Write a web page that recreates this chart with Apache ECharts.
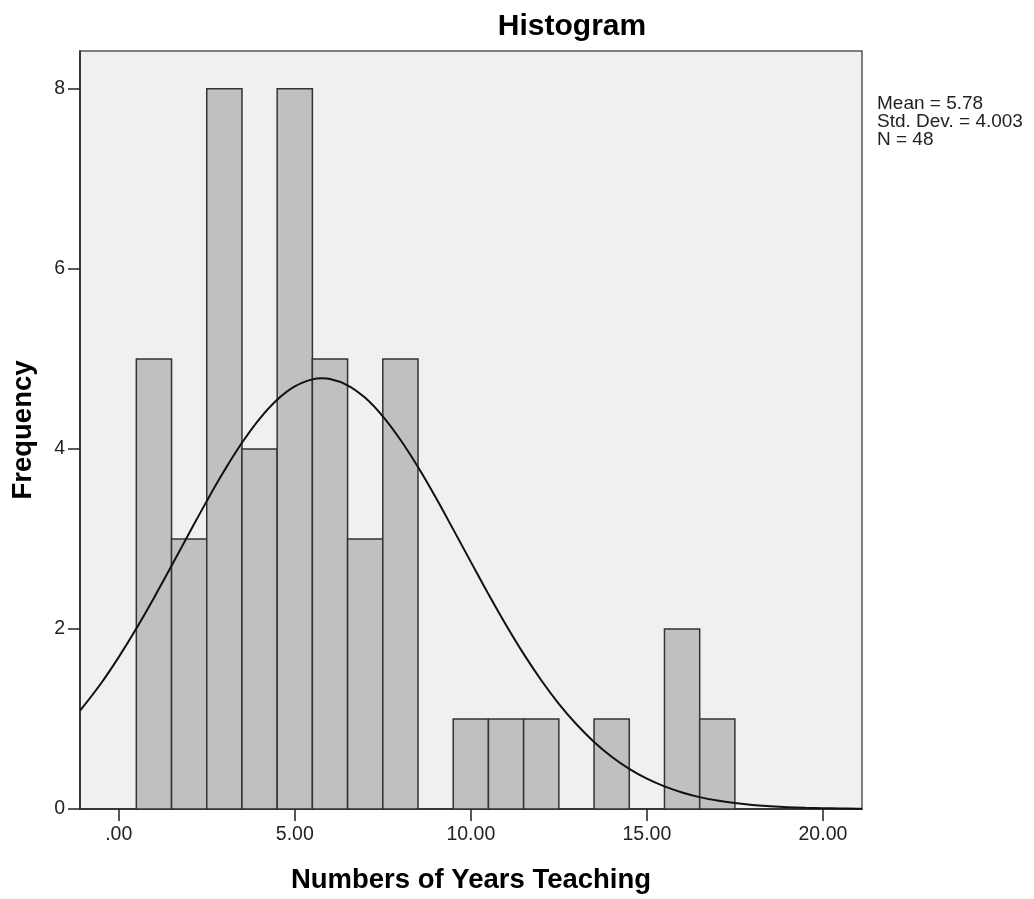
<!DOCTYPE html>
<html>
<head>
<meta charset="utf-8">
<script src="https://cdn.jsdelivr.net/npm/echarts@6/dist/echarts.min.js"></script>
<style>
  html, body { margin: 0; padding: 0; background: #ffffff; }
  #chart { width: 1034px; height: 899px; }
</style>
</head>
<body>
<div id="chart"></div>
<script>
// ---- data ----
const chartTitle = 'Histogram';
const xAxisTitle = 'Numbers of Years Teaching';
const yAxisTitle = 'Frequency';
const statsLines = ['Mean = 5.78', 'Std. Dev. = 4.003', 'N = 48'];

const binCenters = [1, 2, 3, 4, 5, 6, 7, 8, 9, 10, 11, 12, 13, 14, 15, 16, 17];
const binCounts  = [5, 3, 8, 4, 8, 5, 3, 5, 0, 1, 1, 1, 0, 1, 0, 2, 1];
const binWidth = 1;

const curveX = [-1.1, -0.5, 0, 0.5, 1, 1.5, 2, 2.5, 3, 3.5, 4, 4.5, 5, 5.5, 5.78, 6, 6.5, 7, 7.5, 8, 8.5, 9, 9.5, 10, 10.5, 11, 11.5, 12, 12.5, 13, 13.5, 14, 14.5, 15, 15.5, 16, 16.5, 17, 17.5, 18, 18.5, 19, 19.5, 20, 20.5, 21, 21.11];
const curveY = [1.092, 1.397, 1.687, 2.004, 2.345, 2.701, 3.063, 3.420, 3.759, 4.068, 4.334, 4.546, 4.694, 4.772, 4.784, 4.777, 4.707, 4.567, 4.362, 4.102, 3.798, 3.462, 3.106, 2.745, 2.387, 2.044, 1.723, 1.430, 1.169, 0.941, 0.745, 0.581, 0.446, 0.337, 0.251, 0.184, 0.132, 0.094, 0.066, 0.045, 0.031, 0.020, 0.013, 0.009, 0.006, 0.003, 0.003];

const xTickValues = [0, 5, 10, 15, 20];
const xTickLabels = ['.00', '5.00', '10.00', '15.00', '20.00'];
const yTickValues = [0, 2, 4, 6, 8];
const yTickLabels = ['0', '2', '4', '6', '8'];
const xRange = [-1.1, 21.11];
const yRange = [0, 8.42];

// ---- chart ----
const FONT = '"Liberation Sans", Arial, sans-serif';
const chart = echarts.init(document.getElementById('chart'), null, { renderer: 'canvas' });

const barData = binCenters.map((c, i) => [c, binCounts[i]]);
const curveData = curveX.map((x, i) => [x, curveY[i]]);

const option = {
  backgroundColor: '#ffffff',
  animation: false,
  grid: {
    left: 80, right: 172, top: 51, bottom: 85,
    show: true, backgroundColor: '#f0f0f0', borderColor: '#555555', borderWidth: 1.5
  },
  xAxis: {
    type: 'value', min: xRange[0], max: xRange[1],
    name: xAxisTitle, nameLocation: 'middle', nameGap: 57,
    nameTextStyle: { fontFamily: FONT, fontWeight: 'bold', fontSize: 27.5, color: '#000' },
    axisLine: { show: true, onZero: false, lineStyle: { color: '#222', width: 1.5 } },
    axisTick: { show: true, length: 12, customValues: xTickValues, lineStyle: { color: '#222', width: 1.5 } },
    axisLabel: {
      customValues: xTickValues, margin: 16,
      fontFamily: FONT, fontSize: 19.5, color: '#222',
      formatter: v => { const i = xTickValues.indexOf(v); return i >= 0 ? xTickLabels[i] : ''; }
    },
    splitLine: { show: false }
  },
  yAxis: {
    type: 'value', min: yRange[0], max: yRange[1],
    name: yAxisTitle, nameLocation: 'middle', nameGap: 43, nameRotate: 90,
    nameTextStyle: { fontFamily: FONT, fontWeight: 'bold', fontSize: 27.5, color: '#000' },
    axisLine: { show: true, onZero: false, lineStyle: { color: '#222', width: 1.5 } },
    axisTick: { show: true, length: 12, customValues: yTickValues, lineStyle: { color: '#222', width: 1.5 } },
    axisLabel: {
      customValues: yTickValues, margin: 15,
      fontFamily: FONT, fontSize: 19.5, color: '#222',
      formatter: v => { const i = yTickValues.indexOf(v); return i >= 0 ? yTickLabels[i] : ''; }
    },
    splitLine: { show: false }
  },
  series: [
    {
      type: 'custom',
      data: barData,
      encode: { x: 0, y: 1 },
      z: 2,
      renderItem: function (params, api) {
        const c = api.value(0), v = api.value(1);
        if (!v) return null;
        const p0 = api.coord([c - binWidth / 2, v]);
        const p1 = api.coord([c + binWidth / 2, 0]);
        return {
          type: 'rect',
          shape: { x: p0[0], y: p0[1], width: p1[0] - p0[0], height: p1[1] - p0[1] },
          style: { fill: '#c0c0c0', stroke: '#333333', lineWidth: 1.5 }
        };
      }
    },
    {
      type: 'line',
      data: curveData,
      smooth: 0.4,
      showSymbol: false,
      symbol: 'none',
      clip: true,
      z: 4,
      lineStyle: { color: '#111', width: 2 }
    }
  ],
  graphic: [
    {
      type: 'text', x: 572, y: 27, z: 10,
      style: { text: chartTitle, fontFamily: FONT, fontWeight: 'bold', fontSize: 30, fill: '#000', align: 'center', verticalAlign: 'middle' }
    },
    {
      type: 'text', x: 877, y: 95, z: 10,
      style: { text: statsLines.join('\n'), fontFamily: FONT, fontSize: 19, lineHeight: 18, fill: '#222', align: 'left', verticalAlign: 'top' }
    }
  ]
};
chart.setOption(option);
</script>
</body>
</html>
